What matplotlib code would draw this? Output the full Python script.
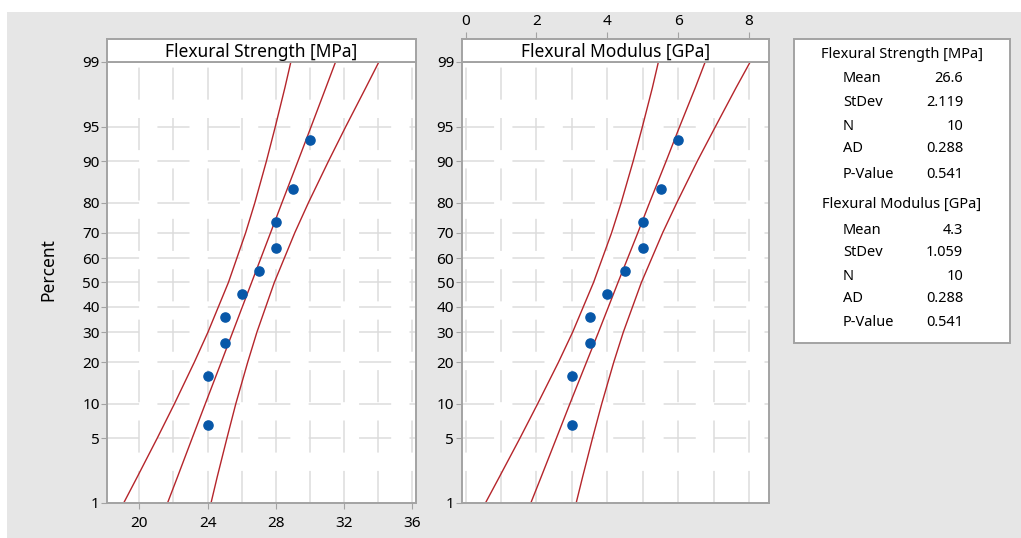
import numpy as np
import matplotlib
matplotlib.use("Agg")
import matplotlib.pyplot as plt
from matplotlib.patches import Rectangle
from statistics import NormalDist

plt.rcParams['font.family'] = ['Noto Sans', 'DejaVu Sans']

# plotting positions (percent) and the two samples
percent = [6.7, 16.3, 26.0, 35.6, 45.2, 54.8, 64.4, 74.0, 83.7, 93.3]
strength = [24, 24, 25, 25, 26, 27, 28, 28, 29, 30]
modulus = [3, 3, 3.5, 3.5, 4, 4.5, 5, 5, 5.5, 6]

# fitted line and 95% CI band, read at these percents
band_pct = [1, 2, 5, 10, 20, 30, 50, 70, 80, 90, 95, 98, 99]
strength_fit = [21.65, 22.23, 23.09, 23.86, 24.80, 25.47, 26.58, 27.69, 28.36, 29.30, 30.07, 30.93, 31.50]
strength_lo = [19.08, 19.87, 21.04, 22.05, 23.22, 24.02, 25.22, 26.23, 26.77, 27.45, 27.97, 28.53, 28.88]
strength_hi = [24.20, 24.56, 25.13, 25.65, 26.35, 26.89, 27.91, 29.11, 29.91, 31.09, 32.10, 33.27, 34.04]
modulus_fit = [1.84, 2.13, 2.56, 2.94, 3.41, 3.75, 4.30, 4.86, 5.19, 5.66, 6.04, 6.48, 6.76]
modulus_lo = [0.56, 0.95, 1.53, 2.03, 2.62, 3.02, 3.61, 4.12, 4.39, 4.73, 4.99, 5.27, 5.44]
modulus_hi = [3.12, 3.30, 3.58, 3.84, 4.18, 4.45, 4.96, 5.56, 5.96, 6.54, 7.05, 7.63, 8.03]

pct_ticks = [1, 5, 10, 20, 30, 40, 50, 60, 70, 80, 90, 95, 99]

stat_names = ["Mean", "StDev", "N", "AD", "P-Value"]
strength_stats = ["26.6", "2.119", "10", "0.288", "0.541"]
modulus_stats = ["4.3", "1.059", "10", "0.288", "0.541"]

W, H = 1021, 538
nd = NormalDist()
_f = np.vectorize(lambda v: nd.inv_cdf(min(max(v, 1e-6), 100 - 1e-6) / 100), otypes=[float])
_i = np.vectorize(lambda v: nd.cdf(v) * 100, otypes=[float])

def probit(p):
    return _f(np.asarray(p, float))

def unprobit(z):
    return _i(np.asarray(z, float))

BORDER = '#a3a3a3'
GRID = '#dcdcdc'
RED = '#b5252b'
BLUE = '#0757a8'

def box(x0, y0, x1, y1):
    # pixel box -> figure fraction rect
    return [x0 / W, 1 - y1 / H, (x1 - x0) / W, (y1 - y0) / H]

fig = plt.figure(figsize=(W / 100, H / 100), dpi=100)
fig.patch.set_facecolor('white')
fig.patches.append(Rectangle((7 / W, 0), 1, (H - 12) / H, transform=fig.transFigure,
                             facecolor='#e6e6e6', edgecolor='none', zorder=-10))

def panel(x0, x1, xlim, xdata, fit, lo, hi, title, grid_step):
    ax = fig.add_axes(box(x0, 62, x1, 503))
    ax.set_yscale('function', functions=(probit, unprobit))
    ax.set_ylim(1, 99)
    ax.set_xlim(*xlim)
    ax.set_yticks(pct_ticks)
    ax.set_yticklabels([str(p) for p in pct_ticks])
    ax.set_xticks(np.arange(np.ceil(xlim[0] / grid_step) * grid_step, xlim[1], grid_step), minor=True)
    ax.tick_params(which='minor', length=0)
    ax.grid(which='both', axis='x', color=GRID, lw=1.1, linestyle=(0, (21, 12)))
    ax.grid(which='major', axis='y', color=GRID, lw=1.1, linestyle=(0, (21, 12)))
    ax.set_axisbelow(True)
    for s in ax.spines.values():
        s.set_color(BORDER)
        s.set_linewidth(1.4)
    ax.tick_params(axis='y', which='major', length=4.5, color=BORDER, labelsize=11, pad=1)
    ax.plot(fit, band_pct, color=RED, lw=1.0)
    ax.plot(lo, band_pct, color=RED, lw=1.0)
    ax.plot(hi, band_pct, color=RED, lw=1.0)
    ax.plot(xdata, percent, 'o', color=BLUE, ms=6.6, mec=BLUE, zorder=5)

    st = fig.add_axes(box(x0, 39, x1, 62), sharex=ax)
    st.set_facecolor('white')
    st.set_yticks([])
    for s in st.spines.values():
        s.set_color(BORDER)
        s.set_linewidth(1.4)
    st.text(0.5, 0.45, title, transform=st.transAxes, ha='center', va='center', fontsize=12.5)
    return ax, st

ax1, st1 = panel(107.3, 415.7, (18.12, 36.2), strength, strength_fit, strength_lo, strength_hi,
                 "Flexural Strength [MPa]", 2)
ax1.set_xticks([20, 24, 28, 32, 36])
ax1.tick_params(axis='x', which='major', length=4.5, color=BORDER, labelsize=11, pad=5)
st1.tick_params(axis='x', which='both', bottom=False, labelbottom=False, length=0)

ax2, st2 = panel(461.7, 769.3, (-0.11, 8.57), modulus, modulus_fit, modulus_lo, modulus_hi,
                 "Flexural Modulus [GPa]", 1)
ax2.set_xticks([0, 2, 4, 6, 8])
ax2.tick_params(axis='x', which='major', bottom=False, labelbottom=False, length=0)
st2.tick_params(axis='x', which='major', bottom=False, labelbottom=False, top=True, labeltop=True,
                length=5, color=BORDER, labelsize=11, pad=2)
st2.tick_params(axis='x', which='minor', bottom=False, top=False)

fig.text(48 / W, 1 - 270 / H, "Percent", rotation=90, ha='center', va='center', fontsize=12.5)

# statistics box
fig.patches.append(Rectangle((794 / W, 1 - 343 / H), 216 / W, 304 / H, transform=fig.transFigure,
                             facecolor='white', edgecolor=BORDER, lw=1.4))

def stat_block(title, values, y_title, ys):
    fig.text(902 / W, 1 - y_title / H, title, ha='center', va='center', fontsize=10.5)
    for name, val, y in zip(stat_names, values, ys):
        fig.text(843 / W, 1 - y / H, name, ha='left', va='center', fontsize=10.5)
        fig.text(963 / W, 1 - y / H, val, ha='right', va='center', fontsize=10.5)

stat_block("Flexural Strength [MPa]", strength_stats, 55, [79, 103, 127, 149, 174])
stat_block("Flexural Modulus [GPa]", modulus_stats, 204, [231, 252, 276, 298, 323])

fig.savefig("out.png", dpi=100, facecolor=fig.get_facecolor())
